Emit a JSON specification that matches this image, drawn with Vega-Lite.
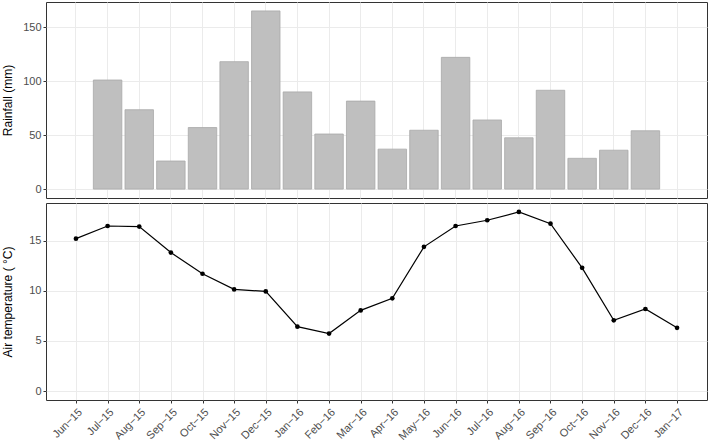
{
  "$schema": "https://vega.github.io/schema/vega-lite/v6.json",
  "autosize": {"type": "pad"},
  "padding": {"left": 0, "top": 1, "right": 1, "bottom": 0},
  "background": "white",
  "bounds": "flush",
  "spacing": 5,
  "config": {
    "font": "Liberation Sans",
    "view": {"stroke": "#333333", "strokeWidth": 1},
    "axis": {
      "domain": false,
      "gridColor": "#EBEBEB",
      "gridWidth": 1,
      "tickColor": "#333333",
      "tickSize": 3,
      "labelColor": "#4D4D4D",
      "labelFontSize": 11,
      "labelPadding": 2,
      "titleColor": "#000000",
      "titleFontSize": 12,
      "titleFontWeight": "normal"
    }
  },
  "datasets": {
    "d": [
      {"month": "Jun-15", "rain": null, "temp": 15.19},
      {"month": "Jul-15", "rain": 101, "temp": 16.45},
      {"month": "Aug-15", "rain": 73.5, "temp": 16.39},
      {"month": "Sep-15", "rain": 26, "temp": 13.8},
      {"month": "Oct-15", "rain": 57, "temp": 11.69},
      {"month": "Nov-15", "rain": 118, "temp": 10.13},
      {"month": "Dec-15", "rain": 165, "temp": 9.93},
      {"month": "Jan-16", "rain": 90, "temp": 6.42},
      {"month": "Feb-16", "rain": 51, "temp": 5.73},
      {"month": "Mar-16", "rain": 81.5, "temp": 8.04},
      {"month": "Apr-16", "rain": 37, "temp": 9.24},
      {"month": "May-16", "rain": 54.5, "temp": 14.37},
      {"month": "Jun-16", "rain": 122, "temp": 16.45},
      {"month": "Jul-16", "rain": 64, "temp": 17.02},
      {"month": "Aug-16", "rain": 47.5, "temp": 17.85},
      {"month": "Sep-16", "rain": 91.5, "temp": 16.68},
      {"month": "Oct-16", "rain": 28.5, "temp": 12.28},
      {"month": "Nov-16", "rain": 36, "temp": 7.05},
      {"month": "Dec-16", "rain": 54, "temp": 8.18},
      {"month": "Jan-17", "rain": null, "temp": 6.3}
    ]
  },
  "vconcat": [
    {
      "width": 661,
      "height": 196,
      "data": {"name": "d"},
      "transform": [{"filter": "isValid(datum.rain)"}],
      "mark": {"type": "bar", "color": "#BFBFBF", "stroke": "#A8A8A8", "strokeWidth": 0.8},
      "encoding": {
        "x": {
          "field": "month", "type": "nominal", "sort": null,
          "scale": {
            "type": "band",
            "domain": ["Jun-15","Jul-15","Aug-15","Sep-15","Oct-15","Nov-15","Dec-15","Jan-16","Feb-16","Mar-16","Apr-16","May-16","Jun-16","Jul-16","Aug-16","Sep-16","Oct-16","Nov-16","Dec-16","Jan-17"],
            "paddingInner": 0.1,
            "paddingOuter": 0.497
          },
          "axis": {"title": null, "labels": false, "ticks": false, "bandPosition": 0.5, "grid": true}
        },
        "y": {
          "field": "rain", "type": "quantitative",
          "scale": {"domain": [-8.25, 173.25], "nice": false, "zero": false},
          "axis": {"title": "Rainfall (mm)", "values": [0, 50, 100, 150], "titleX": -32, "titleY": 98, "titleBaseline": "bottom"}
        }
      }
    },
    {
      "width": 661,
      "height": 197,
      "data": {"name": "d"},
      "encoding": {
        "x": {
          "field": "month", "type": "nominal", "sort": null,
          "scale": {
            "type": "point",
            "domain": ["Jun-15","Jul-15","Aug-15","Sep-15","Oct-15","Nov-15","Dec-15","Jan-16","Feb-16","Mar-16","Apr-16","May-16","Jun-16","Jul-16","Aug-16","Sep-16","Oct-16","Nov-16","Dec-16","Jan-17"],
            "padding": 0.947
          },
          "axis": {"title": null, "labelAngle": -45, "labelAlign": "right", "labelBaseline": "top", "labelPadding": 3, "labelExpr": "replace(datum.label, '-', '−')", "grid": true}
        },
        "y": {
          "field": "temp", "type": "quantitative",
          "scale": {"domain": [-0.89, 18.74], "nice": false, "zero": false},
          "axis": {"title": "Air temperature ( °C)", "values": [0, 5, 10, 15], "titleX": -32, "titleY": 98.5, "titleBaseline": "bottom"}
        }
      },
      "layer": [
        {"mark": {"type": "line", "color": "#000000", "strokeWidth": 1.2}},
        {"mark": {"type": "point", "filled": true, "color": "#000000", "opacity": 1, "size": 22}}
      ]
    }
  ]
}
